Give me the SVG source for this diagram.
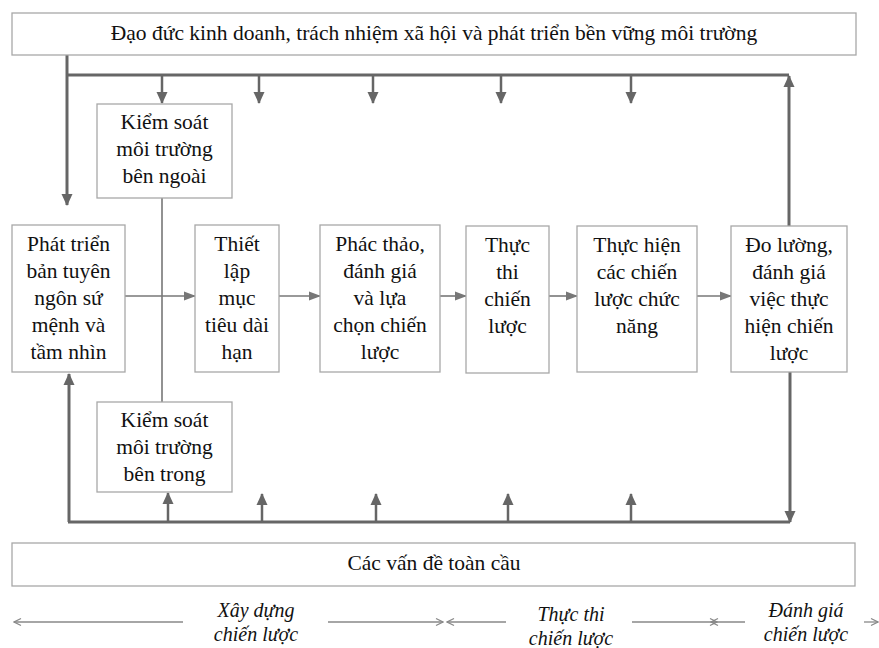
<svg xmlns="http://www.w3.org/2000/svg" width="879" height="648" viewBox="0 0 879 648">
<style>
.box{fill:#fff;stroke:#a8a8a8;stroke-width:1.3}
.t{font-family:"Liberation Serif","Times New Roman",serif;font-size:21.5px;fill:#111;text-anchor:middle}
.it{font-style:italic;font-size:20px}
.thick{stroke:#666;stroke-width:3;fill:none}
.mid{stroke:#666;stroke-width:2.5;fill:none}
.thin{stroke:#777;stroke-width:1.6;fill:none}
.lab{stroke:#888;stroke-width:1.3;fill:none}
</style>
<defs>
<marker id="ah" markerUnits="userSpaceOnUse" markerWidth="12" markerHeight="12" viewBox="0 0 12 12" refX="11" refY="6" orient="auto">
<path d="M0,0.5 L12,6 L0,11.5 Z" fill="#666"/>
</marker>
<marker id="ah2" markerUnits="userSpaceOnUse" markerWidth="12" markerHeight="10" viewBox="0 0 12 10" refX="11" refY="5" orient="auto">
<path d="M0,0.5 L12,5 L0,9.5 Z" fill="#777"/>
</marker>
<marker id="oa" markerUnits="userSpaceOnUse" markerWidth="10" markerHeight="10" viewBox="0 0 10 10" refX="9" refY="5" orient="auto">
<path d="M2,1.5 L9,5 L2,8.5" fill="none" stroke="#888" stroke-width="1.3"/>
</marker>
</defs>

<g id="connectors">
<path class="thick" d="M67,55 V205" marker-end="url(#ah)"/>
<path class="thick" d="M67,75 H789"/>
<path class="thick" d="M789,226 V76" marker-end="url(#ah)"/>
<path class="mid" d="M162,75 V103" marker-end="url(#ah)"/>
<path class="mid" d="M259,75 V103" marker-end="url(#ah)"/>
<path class="mid" d="M373,75 V103" marker-end="url(#ah)"/>
<path class="mid" d="M501,75 V103" marker-end="url(#ah)"/>
<path class="mid" d="M631,75 V103" marker-end="url(#ah)"/>
<path class="thick" d="M68,522 H790"/>
<path class="thick" d="M69,522 V374" marker-end="url(#ah)"/>
<path class="thick" d="M790,372 V522" marker-end="url(#ah)"/>
<path class="mid" d="M168,522 V493" marker-end="url(#ah)"/>
<path class="mid" d="M262,522 V494" marker-end="url(#ah)"/>
<path class="mid" d="M376,522 V494" marker-end="url(#ah)"/>
<path class="mid" d="M508,522 V494" marker-end="url(#ah)"/>
<path class="mid" d="M631,522 V494" marker-end="url(#ah)"/>
<path class="thin" d="M162,198 V402"/>
<path class="thin" d="M125,296 H195" marker-end="url(#ah2)"/>
<path class="thin" d="M279,296 H320" marker-end="url(#ah2)"/>
<path class="thin" d="M440,296 H466" marker-end="url(#ah2)"/>
<path class="thin" d="M549,296 H577" marker-end="url(#ah2)"/>
<path class="thin" d="M697,296 H731" marker-end="url(#ah2)"/>
<path class="lab" d="M183,622 H14" marker-end="url(#oa)"/>
<path class="lab" d="M328,622 H443" marker-end="url(#oa)"/>
<path class="lab" d="M506,622 H447" marker-end="url(#oa)"/>
<path class="lab" d="M632,622 H717" marker-end="url(#oa)"/>
<path class="lab" d="M745,622 H711" marker-end="url(#oa)"/>
<path class="lab" d="M864,622 H878" marker-end="url(#oa)"/>
</g>

<g id="top">
<rect class="box" x="12" y="13" width="844" height="42"/>
<text class="t" x="434" y="40">Đạo đức kinh doanh, trách nhiệm xã hội và phát triển bền vững môi trường</text>
</g>
<g id="bottom">
<rect class="box" x="12" y="543" width="843" height="43"/>
<text class="t" x="434" y="570">Các vấn đề toàn cầu</text>
</g>

<g id="ext">
<rect class="box" x="97" y="104" width="135" height="94"/>
<text class="t" x="164.5" y="129">Kiểm soát</text>
<text class="t" x="164.5" y="156">môi trường</text>
<text class="t" x="164.5" y="183">bên ngoài</text>
</g>
<g id="int">
<rect class="box" x="97" y="402" width="135" height="90"/>
<text class="t" x="164.5" y="427">Kiểm soát</text>
<text class="t" x="164.5" y="454">môi trường</text>
<text class="t" x="164.5" y="481">bên trong</text>
</g>

<g id="mission">
<rect class="box" x="12" y="225" width="113" height="147"/>
<text class="t" x="68.5" y="251">Phát triển</text>
<text class="t" x="68.5" y="278">bản tuyên</text>
<text class="t" x="68.5" y="305">ngôn sứ</text>
<text class="t" x="68.5" y="332">mệnh và</text>
<text class="t" x="68.5" y="359">tầm nhìn</text>
</g>
<g id="goals">
<rect class="box" x="195" y="225" width="84" height="147"/>
<text class="t" x="237" y="251">Thiết</text>
<text class="t" x="237" y="278">lập</text>
<text class="t" x="237" y="305">mục</text>
<text class="t" x="237" y="332">tiêu dài</text>
<text class="t" x="237" y="359">hạn</text>
</g>
<g id="formulate">
<rect class="box" x="320" y="225" width="120" height="147"/>
<text class="t" x="380" y="251">Phác thảo,</text>
<text class="t" x="380" y="278">đánh giá</text>
<text class="t" x="380" y="305">và lựa</text>
<text class="t" x="380" y="332">chọn chiến</text>
<text class="t" x="380" y="359">lược</text>
</g>
<g id="implement">
<rect class="box" x="466" y="226" width="83" height="147"/>
<text class="t" x="507.5" y="252">Thực</text>
<text class="t" x="507.5" y="279">thi</text>
<text class="t" x="507.5" y="306">chiến</text>
<text class="t" x="507.5" y="333">lược</text>
</g>
<g id="functional">
<rect class="box" x="577" y="226" width="120" height="146"/>
<text class="t" x="637" y="252">Thực hiện</text>
<text class="t" x="637" y="279">các chiến</text>
<text class="t" x="637" y="306">lược chức</text>
<text class="t" x="637" y="333">năng</text>
</g>
<g id="evaluate">
<rect class="box" x="731" y="226" width="116" height="146"/>
<text class="t" x="789" y="252">Đo lường,</text>
<text class="t" x="789" y="279">đánh giá</text>
<text class="t" x="789" y="306">việc thực</text>
<text class="t" x="789" y="333">hiện chiến</text>
<text class="t" x="789" y="360">lược</text>
</g>

<g id="phases">
<text class="t it" x="256" y="617">Xây dựng</text>
<text class="t it" x="256" y="641">chiến lược</text>
<text class="t it" x="571" y="621">Thực thi</text>
<text class="t it" x="571" y="645">chiến lược</text>
<text class="t it" x="806" y="617">Đánh giá</text>
<text class="t it" x="806" y="641">chiến lược</text>
</g>
</svg>
